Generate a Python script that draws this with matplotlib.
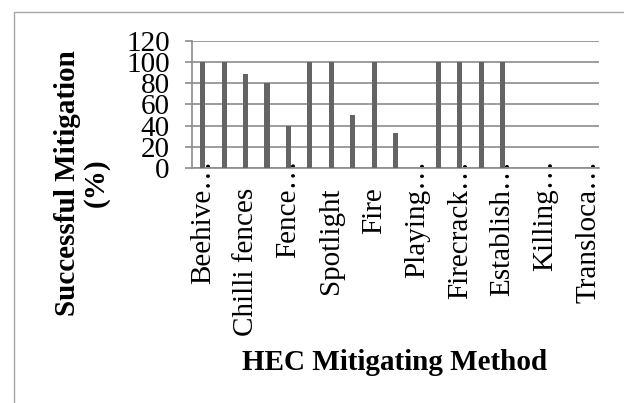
import matplotlib
matplotlib.use("Agg")
import matplotlib.pyplot as plt
from matplotlib.patches import Rectangle
from matplotlib.transforms import ScaledTranslation

plt.rcParams['font.family'] = ['Liberation Serif', 'DejaVu Serif']

# 19 mitigation methods, Excel shows only every other label
labels = ['Beehive…', '', 'Chilli fences', '', 'Fence…', '', 'Spotlight', '',
          'Fire', '', 'Playing…', '', 'Firecrack…', '', 'Establish…', '',
          'Killing…', '', 'Transloca…']
success = [100, 100, 89, 80, 40, 100, 100, 50, 100, 33, 0,
           100, 100, 100, 100, 0, 0, 0, 0]

W, H = 624, 403
FS = 21
fig = plt.figure(figsize=(W / 100, H / 100), dpi=100)

# outer chart border (cut off at right / bottom like the source)
fig.patches.append(Rectangle((14 / W, -0.1), 1.2, 1 - 12 / H + 0.1,
                             transform=fig.transFigure, fill=False,
                             edgecolor='#a6a6a6', linewidth=1))

ax = fig.add_axes([192 / W, 1 - 168 / H, (599 - 192) / W, (168 - 41) / H])
x = range(len(success))
ax.bar(x, success, width=0.24, color='#646464', zorder=3)

ax.set_xlim(-0.5, len(success) - 0.5)
ax.set_ylim(0, 120)
ax.set_yticks([0, 20, 40, 60, 80, 100, 120])
ax.yaxis.grid(True, color='#8c8c8c', linewidth=1.2, zorder=0)

for s in ['top', 'right']:
    ax.spines[s].set_visible(False)
for s in ['left', 'bottom']:
    ax.spines[s].set_color('#8c8c8c')
    ax.spines[s].set_linewidth(1.2)

ax.tick_params(axis='y', length=5, width=1.2, color='#8c8c8c', pad=11, labelsize=FS)
ax.tick_params(axis='x', length=0, pad=14, labelsize=FS)
ax.set_xticks(list(x))
ax.set_xticklabels(labels, rotation=90, va='top', ha='center')

# Excel lets the ellipsis run up into the plot
for t in ax.get_xticklabels():
    if t.get_text().endswith('…'):
        t.set_transform(t.get_transform() + ScaledTranslation(0, 28 / 100, fig.dpi_scale_trans))

fig.text(82 / W, 1 - 183 / H, 'Successful Mitigation\n(%)', rotation=90,
         ha='center', va='center', multialignment='center',
         fontsize=FS, fontweight='bold', linespacing=1.05)
fig.text(395 / W, 1 - 362 / H, 'HEC Mitigating Method', ha='center', va='center',
         fontsize=FS, fontweight='bold')

fig.savefig('out.png', dpi=100)
